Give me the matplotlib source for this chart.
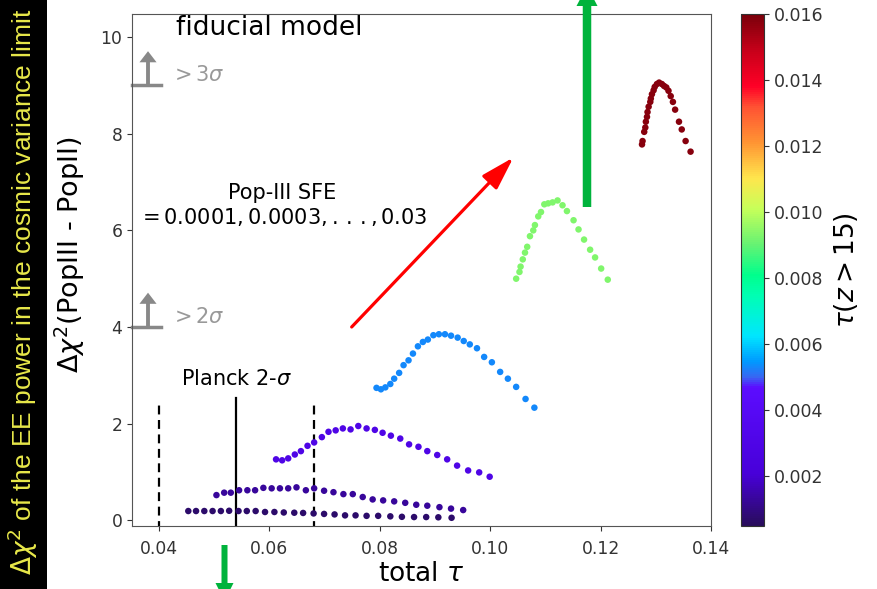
import matplotlib
matplotlib.use("Agg")
import matplotlib.pyplot as plt
import numpy as np
from matplotlib.colors import LinearSegmentedColormap
from matplotlib.patches import FancyArrow, Rectangle

# delta chi^2 curves vs total tau, one per Pop-III model, coloured by tau(z>15)
tau_hi = [0.0007, 0.0013, 0.0030, 0.0053, 0.0093, 0.0158]

tau_1 = [0.0453, 0.0467, 0.0482, 0.0497, 0.0512, 0.0527, 0.0544, 0.0559, 0.0575,
         0.0592, 0.0609, 0.0626, 0.0645, 0.0661, 0.0680, 0.0699, 0.0718, 0.0737,
         0.0756, 0.0776, 0.0797, 0.0819, 0.0840, 0.0862, 0.0884, 0.0906, 0.0930]
chi_1 = [0.19, 0.19, 0.19, 0.19, 0.19, 0.195, 0.19, 0.19, 0.19, 0.17, 0.17, 0.16,
         0.155, 0.15, 0.14, 0.13, 0.12, 0.10, 0.10, 0.09, 0.09, 0.08, 0.07, 0.065,
         0.065, 0.06, 0.05]

tau_2 = [0.0504, 0.0518, 0.0530, 0.0545, 0.0560, 0.0574, 0.0589, 0.0604, 0.0619,
         0.0634, 0.0649, 0.0666, 0.0681, 0.0699, 0.0716, 0.0734, 0.0751, 0.0769,
         0.0787, 0.0806, 0.0826, 0.0846, 0.0866, 0.0886, 0.0908, 0.0929, 0.0951]
chi_2 = [0.52, 0.57, 0.57, 0.62, 0.62, 0.62, 0.67, 0.66, 0.66, 0.66, 0.68, 0.62,
         0.66, 0.61, 0.58, 0.54, 0.54, 0.48, 0.43, 0.41, 0.39, 0.36, 0.32, 0.30,
         0.27, 0.24, 0.21]

tau_3 = [0.0612, 0.0623, 0.0634, 0.0646, 0.0657, 0.0669, 0.0681, 0.0695, 0.0707,
         0.0720, 0.0733, 0.0747, 0.0761, 0.0776, 0.0791, 0.0805, 0.0820, 0.0837,
         0.0853, 0.0870, 0.0886, 0.0904, 0.0922, 0.0940, 0.0960, 0.0980, 0.0999]
chi_3 = [1.26, 1.24, 1.28, 1.36, 1.43, 1.54, 1.61, 1.72, 1.83, 1.86, 1.90, 1.88,
         1.95, 1.90, 1.87, 1.81, 1.75, 1.69, 1.57, 1.52, 1.43, 1.35, 1.26, 1.13,
         1.03, 0.99, 0.90]

tau_4 = [0.0794, 0.0802, 0.0810, 0.0819, 0.0826, 0.0835, 0.0843, 0.0852, 0.0860,
         0.0869, 0.0878, 0.0887, 0.0897, 0.0907, 0.0918, 0.0929, 0.0941, 0.0952,
         0.0963, 0.0976, 0.0989, 0.1003, 0.1018, 0.1032, 0.1047, 0.1064, 0.1080]
chi_4 = [2.74, 2.71, 2.75, 2.82, 2.93, 3.05, 3.21, 3.31, 3.45, 3.60, 3.69, 3.74,
         3.83, 3.85, 3.85, 3.82, 3.78, 3.71, 3.64, 3.56, 3.38, 3.27, 3.07, 2.93,
         2.76, 2.51, 2.33]

tau_5 = [0.1047, 0.1053, 0.1055, 0.1059, 0.1063, 0.1067, 0.1072, 0.1078, 0.1081,
         0.1087, 0.1092, 0.1098, 0.1105, 0.1113, 0.1122, 0.1131, 0.1139, 0.1151,
         0.1160, 0.1170, 0.1181, 0.1190, 0.1201, 0.1213]
chi_5 = [5.00, 5.14, 5.25, 5.40, 5.54, 5.66, 5.88, 6.00, 6.11, 6.29, 6.38, 6.54,
         6.56, 6.58, 6.62, 6.52, 6.40, 6.21, 6.02, 5.81, 5.60, 5.44, 5.21, 4.98]

tau_6 = [0.1275, 0.1276, 0.1279, 0.1281, 0.1282, 0.1284, 0.1285, 0.1287, 0.1290,
         0.1291, 0.1293, 0.1296, 0.1298, 0.1302, 0.1306, 0.1311, 0.1315, 0.1319,
         0.1323, 0.1327, 0.1331, 0.1335, 0.1342, 0.1347, 0.1354, 0.1363]
chi_6 = [7.78, 7.85, 8.04, 8.13, 8.25, 8.35, 8.45, 8.56, 8.66, 8.73, 8.82, 8.90,
         8.97, 9.03, 9.06, 9.03, 8.99, 8.96, 8.89, 8.78, 8.66, 8.50, 8.25, 8.09,
         7.85, 7.63]

tau_curves = [tau_1, tau_2, tau_3, tau_4, tau_5, tau_6]
chi_curves = [chi_1, chi_2, chi_3, chi_4, chi_5, chi_6]

# Planck 2-sigma range
planck_tau = 0.054
planck_lo, planck_hi = 0.040, 0.068

cbar_ticks = [0.002, 0.004, 0.006, 0.008, 0.010, 0.012, 0.014, 0.016]

cmap = LinearSegmentedColormap.from_list("popiii", [
    (0.00, (0.16, 0.05, 0.36)),
    (0.10, (0.28, 0.00, 0.85)),
    (0.27, (0.36, 0.05, 1.00)),
    (0.29, (0.22, 0.40, 0.95)),
    (0.32, (0.00, 0.60, 1.00)),
    (0.37, (0.00, 0.90, 1.00)),
    (0.45, (0.00, 1.00, 0.70)),
    (0.49, (0.00, 1.00, 0.55)),
    (0.55, (0.40, 0.95, 0.45)),
    (0.62, (0.78, 1.00, 0.35)),
    (0.68, (1.00, 0.90, 0.30)),
    (0.75, (1.00, 0.58, 0.20)),
    (0.82, (1.00, 0.32, 0.20)),
    (0.86, (1.00, 0.00, 0.15)),
    (0.93, (0.78, 0.00, 0.10)),
    (1.00, (0.48, 0.00, 0.04)),
])

W, H = 877, 589
fig = plt.figure(figsize=(W / 100, H / 100), dpi=100)
ax = fig.add_axes([132 / W, 63 / H, 579 / W, 512 / H])
cax = fig.add_axes([741 / W, 63 / H, 23 / W, 512 / H])

xs = np.concatenate(tau_curves)
ys = np.concatenate(chi_curves)
cs = np.concatenate([[t] * len(c) for t, c in zip(tau_hi, tau_curves)])
sc = ax.scatter(xs, ys, c=cs, cmap=cmap, vmin=0.0005, vmax=0.016, s=22,
                edgecolors="none", zorder=3)

ax.set_xlim(0.0351, 0.14)
ax.set_ylim(-0.12, 10.48)
ax.set_xticks([0.04, 0.06, 0.08, 0.10, 0.12, 0.14])
ax.set_yticks([0, 2, 4, 6, 8, 10])
ax.tick_params(labelsize=12.3, colors="#333333")
ax.tick_params(axis="x", pad=6.5)
for sp in ax.spines.values():
    sp.set_color("#555555")
ax.set_xlabel(r"total $\tau$", fontsize=19, labelpad=2)
ax.set_ylabel(r"$\Delta\chi^2$(PopIII - PopII)", fontsize=19.5, labelpad=10)
ax.yaxis.label.set_y(0.53)

# Planck lines
ax.plot([planck_tau, planck_tau], [-0.2, 2.52], color="black", lw=1.6)
for t in (planck_lo, planck_hi):
    ax.plot([t, t], [-0.2, 2.43], color="black", lw=1.6, ls=(0, (4, 2.5)))
ax.text(0.0541, 2.92, r"Planck 2-$\sigma$", fontsize=15, ha="center", va="center")

ax.text(0.0431, 10.2, "fiducial model", fontsize=19, ha="left", va="center")
ax.text(0.0623, 6.77, "Pop-III SFE", fontsize=15, ha="center", va="center")
ax.text(0.0624, 6.27, r"$= 0.0001, 0.0003, .\,.\,., 0.03$",
        fontsize=15, ha="center", va="center")

# significance markers
for lvl, lab in [(9, r"$>3\sigma$"), (4, r"$>2\sigma$")]:
    ax.plot([0.0351, 0.0404], [lvl, lvl], color="#888888", lw=2.5, clip_on=False)
    ax.add_patch(FancyArrow(0.0380, lvl, 0, 0.71, width=0.0007, head_width=0.0031,
                            head_length=0.23, length_includes_head=True,
                            color="#888888", lw=0))
    ax.text(0.0420, lvl + 0.21, lab, fontsize=15, color="#999999", va="center")

# SFE direction arrow
ax.annotate("", xy=(0.1042, 7.51), xytext=(0.0749, 4.0),
            arrowprops=dict(arrowstyle="-|>,head_length=0.6,head_width=0.18",
                            color="red", lw=2.3, mutation_scale=34,
                            shrinkA=0, shrinkB=0))

cb = fig.colorbar(sc, cax=cax, ticks=cbar_ticks)
cb.ax.tick_params(labelsize=12.5, colors="#333333")
cb.outline.set_edgecolor("#333333")
cb.set_label(r"$\tau(z > 15)$", fontsize=19, labelpad=6)

# green arrows and the side caption strip, in figure inches
px = fig.dpi_scale_trans
fig.add_artist(FancyArrow(5.87, 3.82, 0, 2.21, width=0.085, head_width=0.21,
                          head_length=0.2, length_includes_head=True,
                          color="#00b33c", lw=0, transform=px))
fig.add_artist(FancyArrow(2.245, 0.44, 0, -0.56, width=0.06, head_width=0.18,
                          head_length=0.18, length_includes_head=True,
                          color="#00b33c", lw=0, transform=px))
fig.add_artist(Rectangle((0, 0), 47 / W, 1, transform=fig.transFigure,
                         color="black", lw=0))
fig.text(23 / W, 0.505, r"$\Delta\chi^2$ of the EE power in the cosmic variance limit",
         rotation=90, ha="center", va="center", fontsize=19, color="#e8e84a",
         family="Liberation Sans")

fig.savefig("out.png", dpi=100)
